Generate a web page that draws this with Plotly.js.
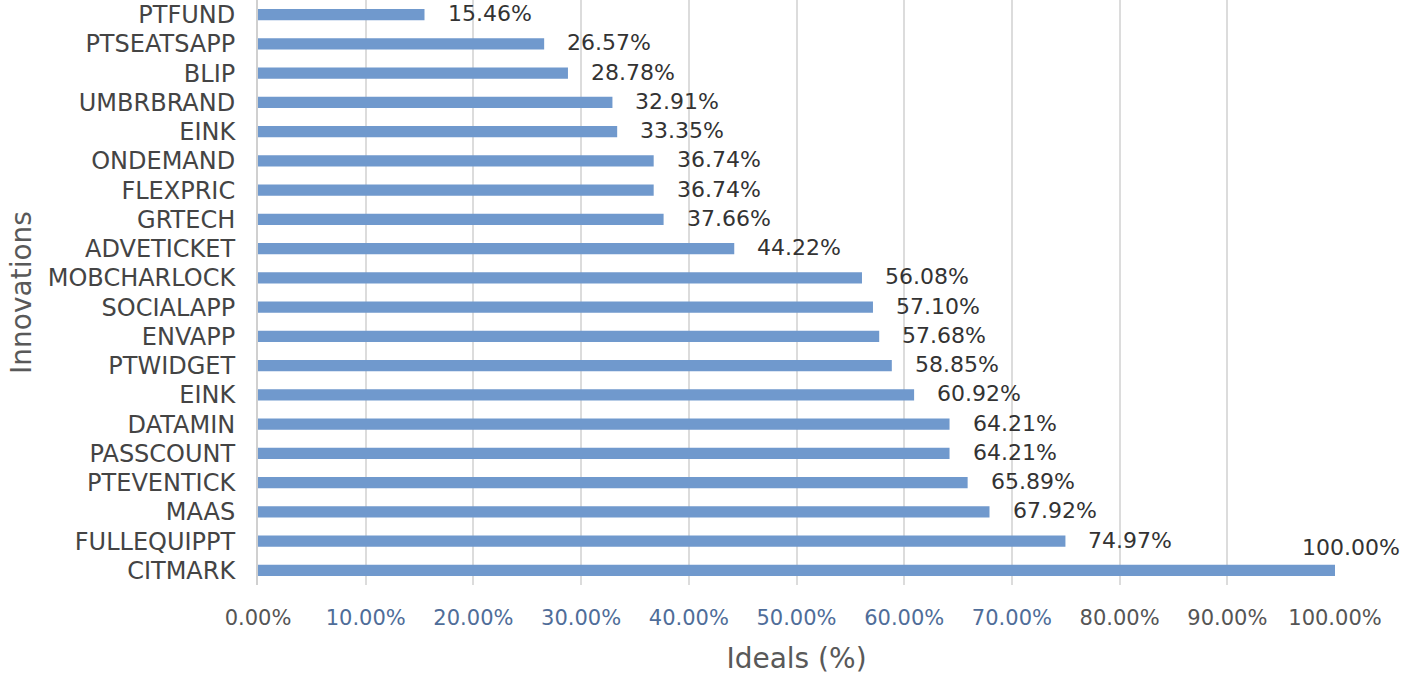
<!DOCTYPE html>
<html>
<head>
<meta charset="utf-8">
<script src="https://cdn.plot.ly/plotly-3.0.1.min.js"></script>
<style>html,body{margin:0;padding:0;background:#fff;}#chart{width:1412px;height:675px;}</style>
</head>
<body>
<div id="chart"></div>
<script>
const categories = ["PTFUND","PTSEATSAPP","BLIP","UMBRBRAND","EINK","ONDEMAND","FLEXPRIC","GRTECH","ADVETICKET","MOBCHARLOCK","SOCIALAPP","ENVAPP","PTWIDGET","EINK","DATAMIN","PASSCOUNT","PTEVENTICK","MAAS","FULLEQUIPPT","CITMARK"];
const values = [15.46,26.57,28.78,32.91,33.35,36.74,36.74,37.66,44.22,56.08,57.10,57.68,58.85,60.92,64.21,64.21,65.89,67.92,74.97,100.00];
const tickVals = [0,10,20,30,40,50,60,70,80,90,100];
const tickLabels = ["0.00%","10.00%","20.00%","30.00%","40.00%","50.00%","60.00%","70.00%","80.00%","90.00%","100.00%"];
const tickColors = ["#555555","#4f6d99","#4f6d99","#4f6d99","#4f6d99","#4f6d99","#4f6d99","#4f6d99","#555555","#555555","#555555"];

const fontFam = "DejaVu Sans, Arial, sans-serif";
const positions = categories.map((_, i) => i);

const trace = {
  type: 'bar',
  orientation: 'h',
  y: positions,
  x: values,
  marker: {color: '#7099cd'},
  hoverinfo: 'none'
};

const annotations = values.map((v, i) => {
  const last = v >= 100;
  return {
    x: v, y: positions[i], xref: 'x', yref: 'y',
    text: v.toFixed(2) + '%',
    showarrow: false,
    xanchor: last ? 'center' : 'left',
    yanchor: 'middle',
    xshift: last ? 16 : 21,
    yshift: last ? 23 : 1,
    font: {family: fontFam, size: 22, color: '#333333'}
  };
});

const layout = {
  width: 1412, height: 675,
  margin: {l: 258, r: 77, t: 0, b: 90},
  paper_bgcolor: '#ffffff', plot_bgcolor: '#ffffff',
  bargap: 0.62,
  showlegend: false,
  font: {family: fontFam, color: '#555555'},
  xaxis: {
    range: [0, 100],
    autorange: false,
    tickvals: tickVals,
    ticktext: tickLabels.map((t, i) => '<span style="color:' + tickColors[i] + '">' + t + '</span>'),
    tickfont: {family: fontFam, size: 21, color: '#555555'},
    showgrid: true, gridcolor: '#dcdcdc', gridwidth: 2,
    zeroline: false, showline: false,
    ticks: '', ticklabelstandoff: 18,
    title: {text: 'Ideals (%)', font: {family: fontFam, size: 28, color: '#595959'}, standoff: 20},
    fixedrange: true
  },
  yaxis: {
    autorange: false,
    range: [19.5, -0.5],
    tickvals: positions,
    ticktext: categories,
    tickfont: {family: fontFam, size: 24, color: '#444444'},
    showgrid: false, zeroline: false,
    showline: true, linecolor: '#d0d0d0', linewidth: 2,
    ticks: '', ticklabelstandoff: 16,
    title: {text: 'Innovations', font: {family: fontFam, size: 28, color: '#595959'}, standoff: 8},
    fixedrange: true
  },
  annotations: annotations
};

Plotly.newPlot('chart', [trace], layout, {displayModeBar: false, staticPlot: true});
</script>
</body>
</html>
